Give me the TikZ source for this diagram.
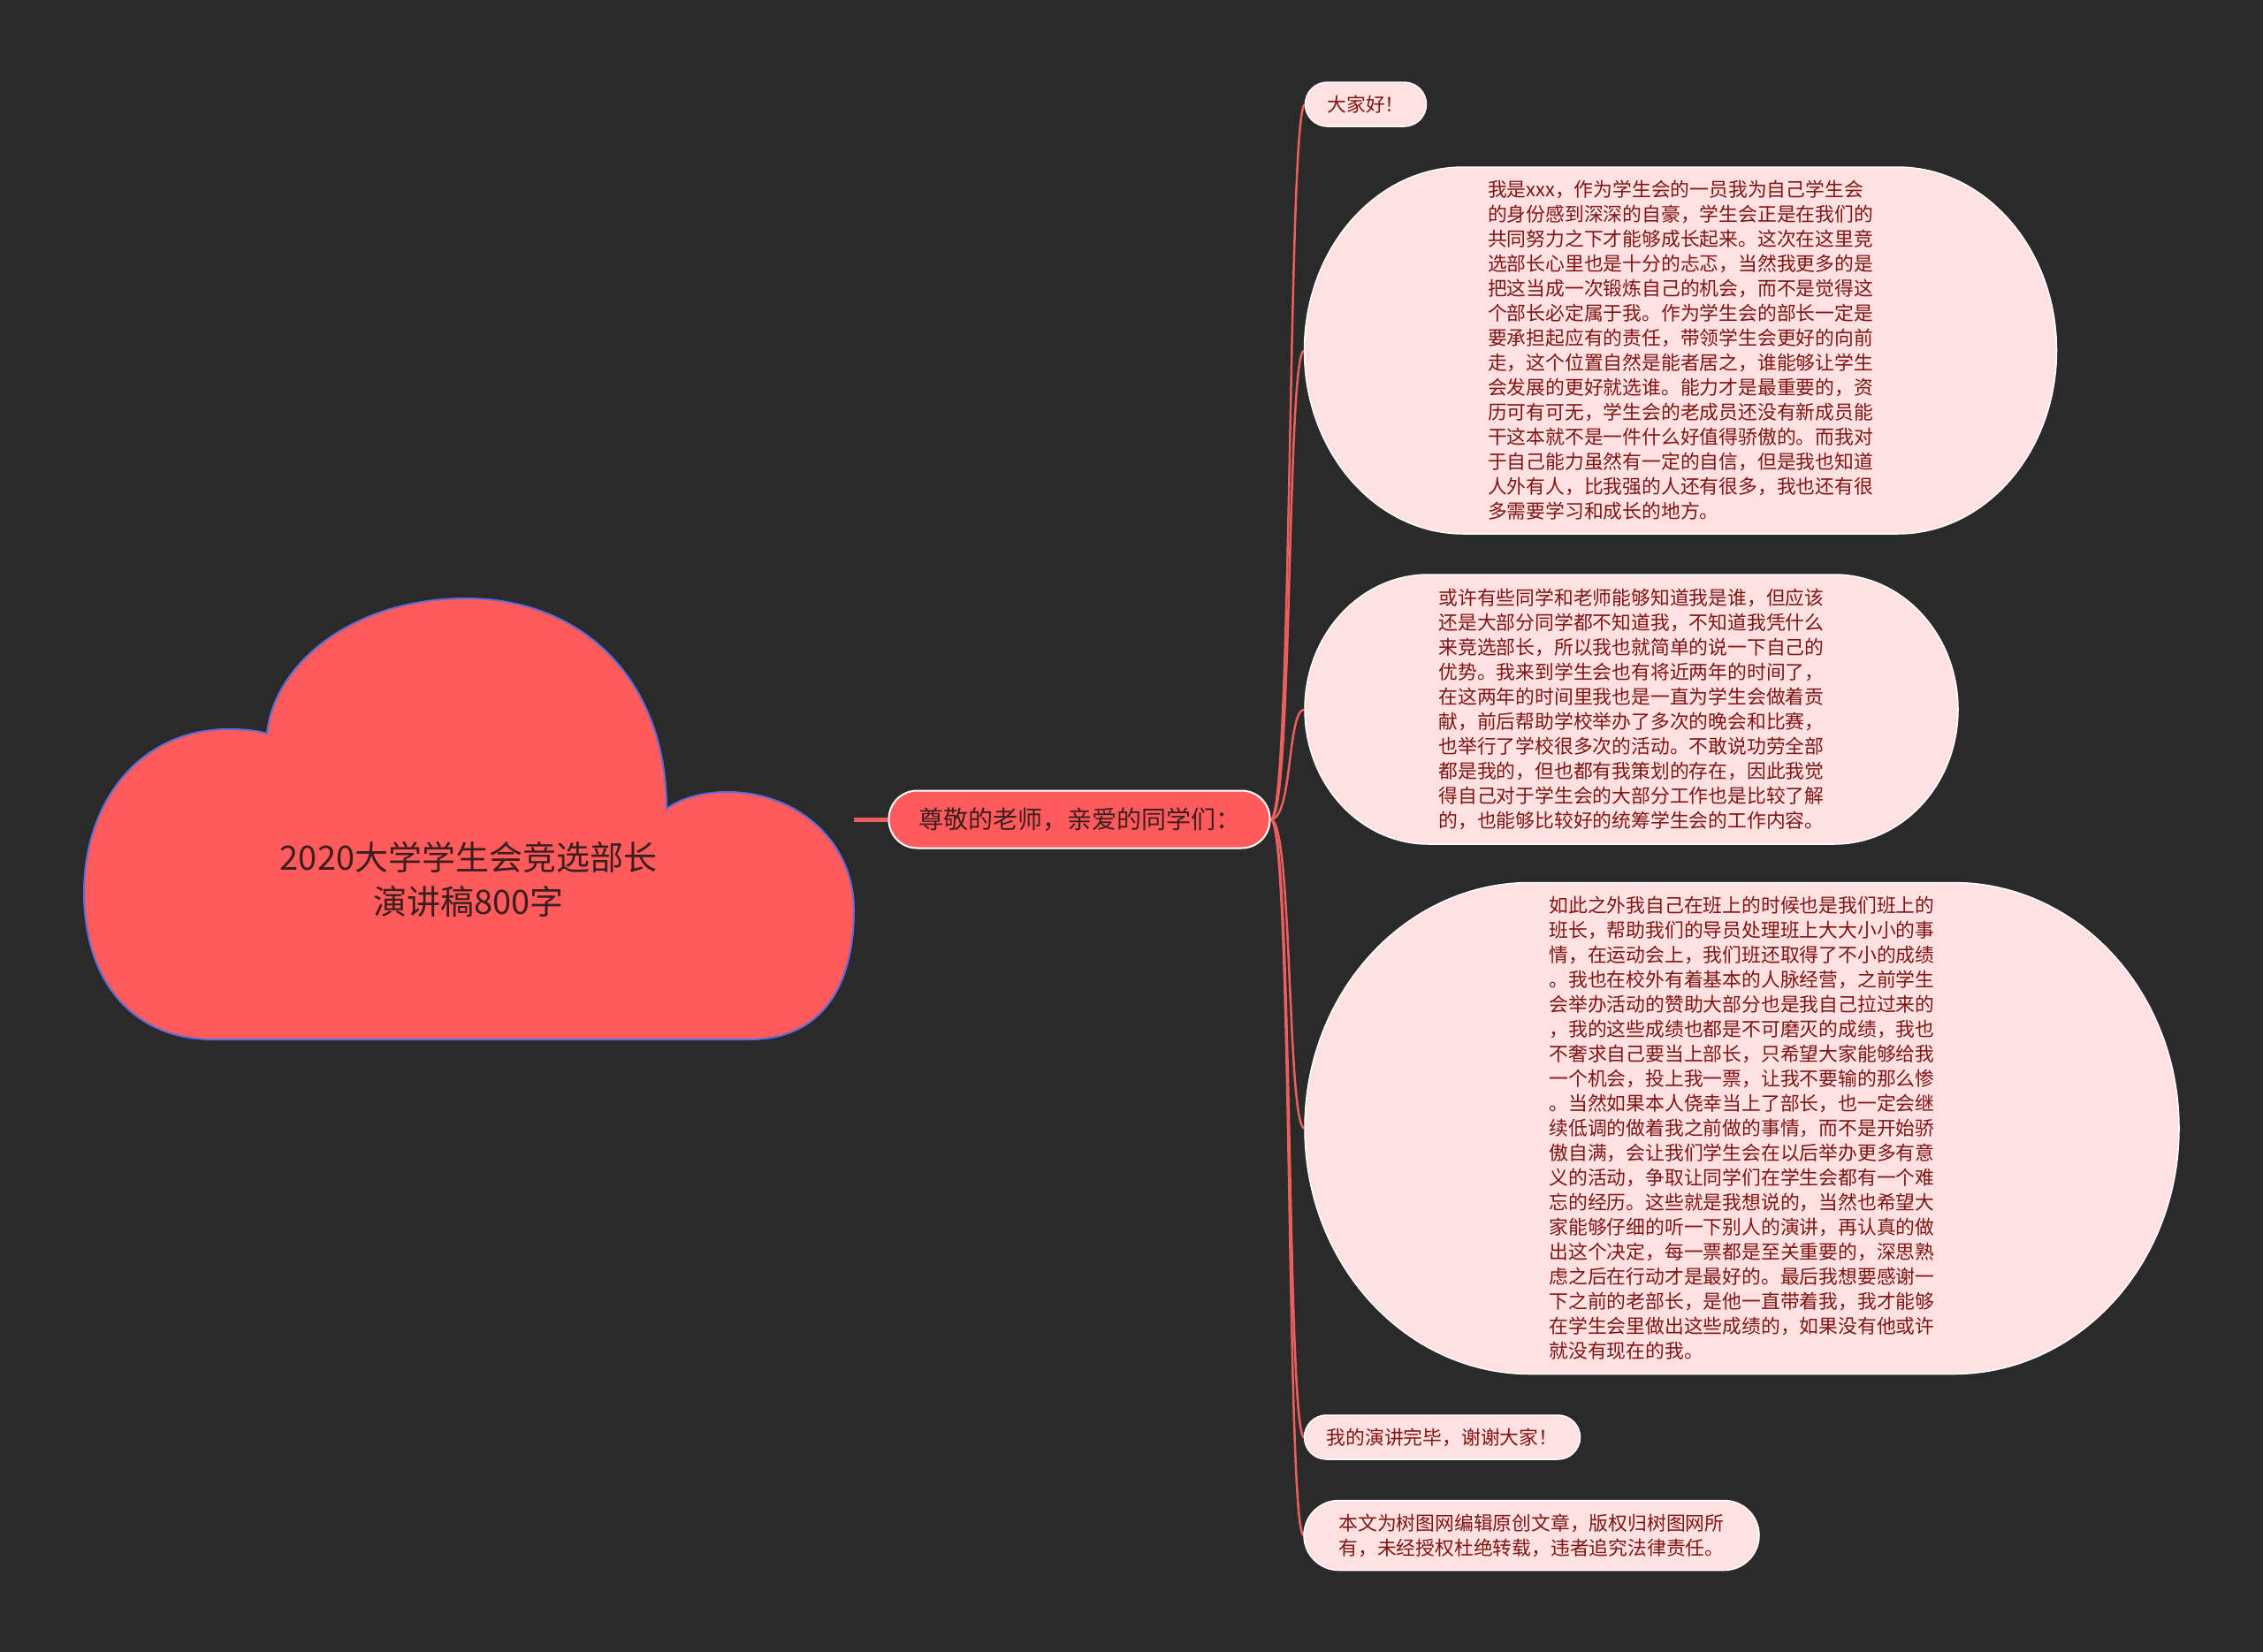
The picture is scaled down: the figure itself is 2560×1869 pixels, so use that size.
\documentclass[tikz,border=0pt]{standalone}
\usepackage{fontspec}
\setmainfont{Noto Sans CJK SC}
\newfontfamily\cjk{Noto Sans CJK SC}
\usetikzlibrary{calc}
\pgfdeclarelayer{back}
\pgfdeclarelayer{links}
\pgfsetlayers{back,links,main}
\definecolor{bgc}{HTML}{2A2A2A}
\definecolor{cloudred}{HTML}{FF5A5C}
\definecolor{cloudedge}{HTML}{5B6BD8}
\definecolor{leaffill}{HTML}{FFE1E1}
\definecolor{leaftext}{HTML}{7F1515}
\definecolor{darktext}{HTML}{3C1E1E}
\definecolor{linkred}{HTML}{EC5F5F}
\tikzset{
  cloudshape/.style={fill=cloudred, draw=cloudedge, line width=2pt},
  roottxt/.style={text=darktext, font=\cjk\fontsize{38}{50}\selectfont, align=center, inner sep=0pt},
  mainbox/.style={fill=cloudred, draw=white, line width=2pt, rounded corners=32pt,
    minimum width=431pt, minimum height=65pt, inner sep=0pt, text=darktext,
    font=\cjk\fontsize{28}{32}\selectfont},
  leafshape/.style={fill=leaffill, draw=white, line width=1.5pt},
  leaftxt/.style={text=leaftext, font=\cjk\fontsize{21.8}{28}\selectfont, align=left, inner sep=0pt},
  link/.style={draw=linkred, line width=2.5pt},
  rootlink/.style={draw=linkred, line width=5pt},
}
% cx cy halfwidth halfheight xradius
\newcommand\pillshape[5]{%
  \path[leafshape] (#1-#3+#5,#2-#4) -- (#1+#3-#5,#2-#4)
   .. controls (#1+#3-#5+0.5523*#5,#2-#4) and (#1+#3,#2-0.5523*#4) .. (#1+#3,#2)
   .. controls (#1+#3,#2+0.5523*#4) and (#1+#3-#5+0.5523*#5,#2+#4) .. (#1+#3-#5,#2+#4)
   -- (#1-#3+#5,#2+#4)
   .. controls (#1-#3+#5-0.5523*#5,#2+#4) and (#1-#3,#2+0.5523*#4) .. (#1-#3,#2)
   .. controls (#1-#3,#2-0.5523*#4) and (#1-#3+#5-0.5523*#5,#2-#4) .. (#1-#3+#5,#2-#4) -- cycle;}
\begin{document}
\begin{tikzpicture}[x=1pt,y=-1pt]
\begin{pgfonlayer}{back}
\fill[bgc] (0,0) rectangle (2560,1869);
\end{pgfonlayer}
\useasboundingbox (0,0) rectangle (2560,1869);

% cloud
\path[cloudshape] (241,1176) -- (848,1176)
 .. controls (930,1176) and (966,1115) .. (966,1030)
 .. controls (966,950) and (900,896) .. (823,896)
 .. controls (795,896) and (770,903) .. (754,915)
 .. controls (754,770) and (660,677) .. (527,677)
 .. controls (400,677) and (310,750) .. (302,830)
 .. controls (290,826) and (275,825) .. (258,825)
 .. controls (160,825) and (95,905) .. (95,1010)
 .. controls (95,1110) and (150,1176) .. (241,1176) -- cycle;
\node[roottxt] (root) at (530,995) {2020大学学生会竞选部长\\演讲稿800字};
\coordinate (rootR) at (966,927);

% main topic
\node[mainbox] (main) at (1221,927) {尊敬的老师，亲爱的同学们：};

% leaves
\pillshape{1545}{118}{68.5}{25}{25}
\node[leaftxt, minimum width=137pt, minimum height=50pt] (l1) at (1545,118) {大家好！};

\pillshape{1901}{396.5}{425.5}{207.5}{180}
\node[leaftxt, minimum width=851pt, minimum height=415pt] (b1) at (1901,396.5) {我是xxx，作为学生会的一员我为自己学生会\\
的身份感到深深的自豪，学生会正是在我们的\\
共同努力之下才能够成长起来。这次在这里竞\\
选部长心里也是十分的忐忑，当然我更多的是\\
把这当成一次锻炼自己的机会，而不是觉得这\\
个部长必定属于我。作为学生会的部长一定是\\
要承担起应有的责任，带领学生会更好的向前\\
走，这个位置自然是能者居之，谁能够让学生\\
会发展的更好就选谁。能力才是最重要的，资\\
历可有可无，学生会的老成员还没有新成员能\\
干这本就不是一件什么好值得骄傲的。而我对\\
于自己能力虽然有一定的自信，但是我也知道\\
人外有人，比我强的人还有很多，我也还有很\\
多需要学习和成长的地方。};

\pillshape{1845.5}{802.5}{369.5}{152.5}{140}
\node[leaftxt, minimum width=739pt, minimum height=305pt] (b2) at (1845.5,802.5) {或许有些同学和老师能够知道我是谁，但应该\\
还是大部分同学都不知道我，不知道我凭什么\\
来竞选部长，所以我也就简单的说一下自己的\\
优势。我来到学生会也有将近两年的时间了，\\
在这两年的时间里我也是一直为学生会做着贡\\
献，前后帮助学校举办了多次的晚会和比赛，\\
也举行了学校很多次的活动。不敢说功劳全部\\
都是我的，但也都有我策划的存在，因此我觉\\
得自己对于学生会的大部分工作也是比较了解\\
的，也能够比较好的统筹学生会的工作内容。};

\pillshape{1970.5}{1276.5}{494.5}{278}{255}
\node[leaftxt, minimum width=989pt, minimum height=556pt] (b3) at (1970.5,1276.5) {如此之外我自己在班上的时候也是我们班上的\\
班长，帮助我们的导员处理班上大大小小的事\\
情，在运动会上，我们班还取得了不小的成绩\\
。我也在校外有着基本的人脉经营，之前学生\\
会举办活动的赞助大部分也是我自己拉过来的\\
，我的这些成绩也都是不可磨灭的成绩，我也\\
不奢求自己要当上部长，只希望大家能够给我\\
一个机会，投上我一票，让我不要输的那么惨\\
。当然如果本人侥幸当上了部长，也一定会继\\
续低调的做着我之前做的事情，而不是开始骄\\
傲自满，会让我们学生会在以后举办更多有意\\
义的活动，争取让同学们在学生会都有一个难\\
忘的经历。这些就是我想说的，当然也希望大\\
家能够仔细的听一下别人的演讲，再认真的做\\
出这个决定，每一票都是至关重要的，深思熟\\
虑之后在行动才是最好的。最后我想要感谢一\\
下之前的老部长，是他一直带着我，我才能够\\
在学生会里做出这些成绩的，如果没有他或许\\
就没有现在的我。};

\pillshape{1631.5}{1626}{156}{25}{25}
\node[leaftxt, minimum width=312pt, minimum height=50pt] (l4) at (1631.5,1626) {我的演讲完毕，谢谢大家！};

\pillshape{1732.5}{1737}{257.5}{39.5}{39.5}
\node[leaftxt, minimum width=515pt, minimum height=79pt] (l5) at (1732.5,1737) {本文为树图网编辑原创文章，版权归树图网所\\
有，未经授权杜绝转载，违者追究法律责任。};

% connectors
\begin{pgfonlayer}{links}
\draw[rootlink] (rootR) -- (main.west);
\foreach \t in {l1,b1,b2,b3,l4,l5}{
  \draw[link] (main.east) .. controls +(25,0) and +(-20,0) .. (\t.west);
}
\end{pgfonlayer}
\end{tikzpicture}
\end{document}
